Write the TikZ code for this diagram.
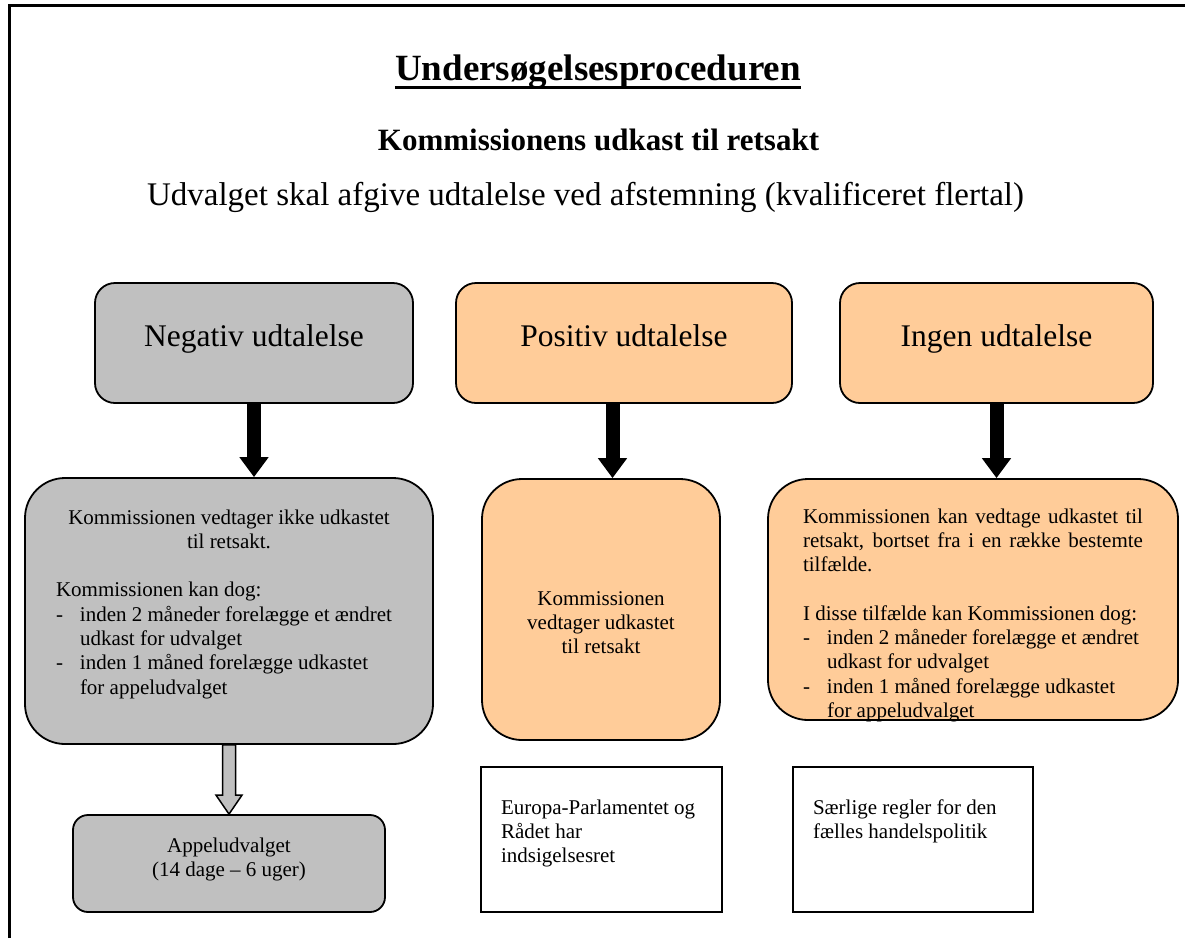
\documentclass[tikz,border=0pt]{standalone}
\usepackage{fontspec}
\setmainfont{Liberation Serif}
\usetikzlibrary{arrows.meta}
\definecolor{boxgray}{HTML}{C0C0C0}
\definecolor{boxorange}{HTML}{FFCC99}
\newcommand{\headfont}{\fontsize{31.5}{37}\selectfont}
\newcommand{\boxfont}{\fontsize{21}{24.3}\selectfont}
\newcommand{\dashitem}[2]{\par\hangindent=24pt\hangafter=1\noindent\makebox[24pt][l]{-}#1\\#2\par}
\tikzset{%
    headbox/.style={draw, line width=1.8pt, rounded corners=20pt, inner sep=0pt,
        text height=63pt, text depth=57pt, font=\headfont},
    resbox/.style={draw, line width=1.8pt, rounded corners=40pt, inner sep=0pt, font=\boxfont},
    notebox/.style={draw, line width=2.2pt, fill=white, inner sep=0pt, font=\boxfont},
    blockarrow/.style={line width=14pt, -{Triangle[width=28pt,length=20pt]}},
    hollowarrow/.style={draw, line width=1.5pt, fill=boxgray, line join=miter}
}

\begin{document}
\begin{tikzpicture}[x=1pt,y=-1pt]
\useasboundingbox (0,0) rectangle (1185,938);
\draw[line width=2.6pt] (9.5,938) -- (9.5,5.3) -- (1185,5.3);

\node[anchor=base, inner xsep=0pt, font=\fontsize{37}{44}\selectfont\bfseries] (title) at (598,80) {Undersøgelsesproceduren};
\draw[line width=2.8pt] ([yshift=-7.5pt]title.base west) -- ([yshift=-7.5pt]title.base east);
\node[anchor=base, font=\fontsize{31}{37}\selectfont\bfseries] (draft) at (598.5,150) {Kommissionens udkast til retsakt};
\node[anchor=base, font=\fontsize{33}{40}\selectfont] (vote) at (585.5,205) {Udvalget skal afgive udtalelse ved afstemning (kvalificeret flertal)};

\node[headbox, fill=boxgray, minimum width=318pt] (neg) at (254,343) {Negativ udtalelse};
\node[headbox, fill=boxorange, minimum width=336pt] (pos) at (624,343) {Positiv udtalelse};
\node[headbox, fill=boxorange, minimum width=313pt] (silent) at (996.5,343) {Ingen udtalelse};

\node[resbox, fill=boxgray, minimum width=408pt] (negres) at (229,611) {\parbox[c][266pt][t]{346pt}{\vspace*{29pt}%
    {\centering\strut Kommissionen vedtager ikke udkastet\\ til retsakt.\par}
    \vspace{24.3pt}\noindent Kommissionen kan dog:\par
    \dashitem{inden 2 måneder forelægge et ændret}{udkast for udvalget}
    \dashitem{inden 1 måned forelægge udkastet}{for appeludvalget}}};
\node[resbox, fill=boxorange, minimum width=238pt] (posres) at (601,609.5) {\parbox[c][261pt][t]{200pt}{\centering\vspace*{109pt}%
    \strut Kommissionen\\ vedtager udkastet\\ til retsakt}};
\node[resbox, fill=boxorange, minimum width=410pt] (silentres) at (973,599.5) {\parbox[c][241pt][t]{340pt}{\vspace*{27pt}%
    \strut Kommissionen kan vedtage udkastet til\linebreak{} retsakt, bortset fra i en række bestemte\linebreak{} tilfælde.\par
    \vspace{24.3pt}\noindent I disse tilfælde kan Kommissionen dog:\par
    \dashitem{inden 2 måneder forelægge et ændret}{udkast for udvalget}
    \dashitem{inden 1 måned forelægge udkastet}{for appeludvalget}}};

\node[resbox, rounded corners=15pt, fill=boxgray, minimum width=312pt] (appel) at (229,863.5) {\parbox[c][97pt][t]{280pt}{\centering\vspace*{20pt}%
    \strut Appeludvalget\\ (14 dage – 6 uger)}};
\node[notebox, minimum width=241pt] (eprule) at (601.5,839.5) {\parbox[c][145pt][t]{201pt}{\raggedright\vspace*{30pt}%
    \strut Europa-Parlamentet og\\ Rådet har\\ indsigelsesret}};
\node[notebox, minimum width=240pt] (traderule) at (913,839.5) {\parbox[c][145pt][t]{200pt}{\raggedright\vspace*{30pt}%
    \strut Særlige regler for den\\ fælles handelspolitik}};

\draw[blockarrow] (neg.south) -- (neg.south |- negres.north);
\draw[blockarrow] ([xshift=-11.5pt]pos.south) -- ([xshift=-11.5pt]pos.south |- posres.north);
\draw[blockarrow] (silent.south) -- (silent.south |- silentres.north);

\draw[hollowarrow] ([xshift=-6.5pt]negres.south) -- ([xshift=-6.5pt,yshift=19pt]appel.north)
    -- ([xshift=-13pt,yshift=19pt]appel.north) -- (appel.north)
    -- ([xshift=13pt,yshift=19pt]appel.north) -- ([xshift=6.5pt,yshift=19pt]appel.north)
    -- ([xshift=6.5pt]negres.south) -- cycle;
\end{tikzpicture}
\end{document}
